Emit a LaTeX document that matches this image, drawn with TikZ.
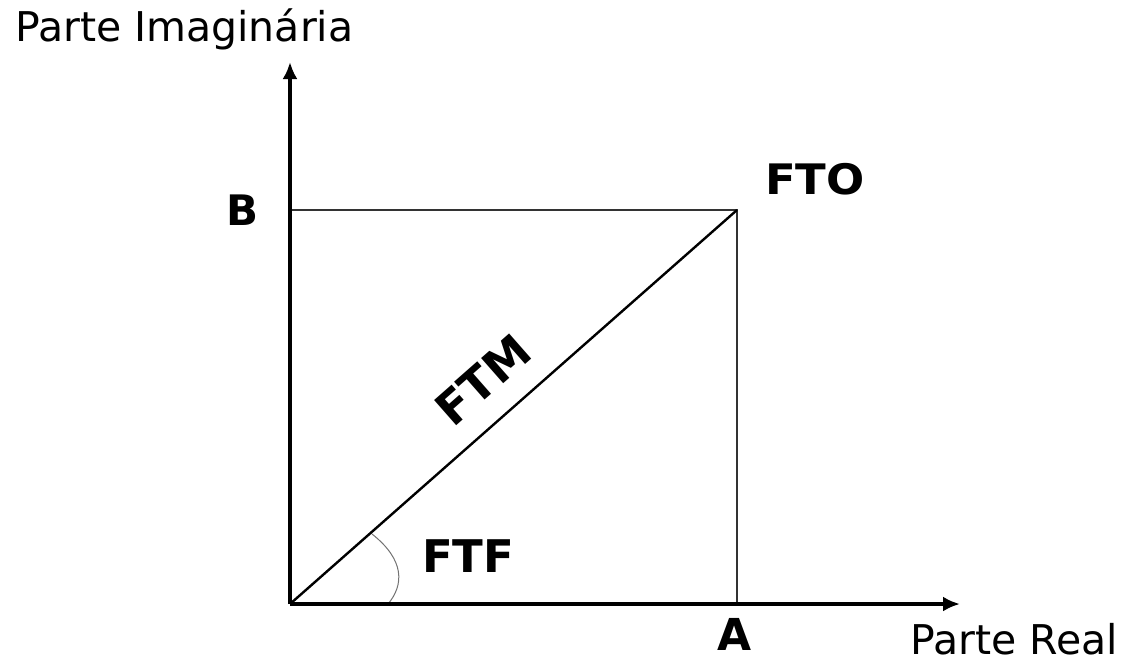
\documentclass[tikz,border=0pt]{standalone}
\usepackage{fontspec}
\setmainfont{DejaVu Sans}
\usetikzlibrary{arrows.meta}
\begin{document}
\begin{tikzpicture}[x=1pt,y=-1pt,
  axis/.style={line width=4pt,-{Latex[length=17pt,width=15pt]}},
  thin line/.style={line width=1.3pt,black!80},
  diag/.style={line width=2.4pt},
  lbl/.style={font=\fontsize{41}{44}\selectfont},
  blbl/.style={font=\fontsize{42}{44}\selectfont\bfseries},
  anglearc/.style={line width=1pt,black!55}]
\useasboundingbox (0,0) rectangle (1126,665);
\coordinate (O) at (290,604);
\coordinate (Yt) at (290,62);
\coordinate (Xt) at (960,604);
\coordinate (P) at (737,210);
\coordinate (Bc) at (290,210);
\coordinate (Ac) at (737,604);
\coordinate (arcS) at (372,534);
\coordinate (arcE) at (388,604);
\draw[thin line] (Bc) -- (P) -- (Ac);
\draw[diag] (O) -- (P);
\draw[anglearc] (arcS) .. controls (405,560) and (404,585) .. (arcE);
\draw[axis] (O) -- (Yt);
\draw[axis] (O) -- (Xt);
\node[lbl,anchor=base west,inner sep=0] (pi) at (15,41) {Parte Imaginária};
\node[lbl,anchor=base east,inner sep=0] (pr) at (1118,654) {Parte Real};
\node[blbl,anchor=base,inner sep=0] (B) at (243,225) {B};
\node[blbl,anchor=base,inner sep=0,font=\fontsize{44}{46}\selectfont\bfseries] (A) at (735,650) {A};
\node[blbl,anchor=base west,inner sep=0,xscale=1.07] (FTO) at (765,194) {FTO};
\node[blbl,anchor=base west,inner sep=0,font=\fontsize{45}{46}\selectfont\bfseries] (FTF) at (422,572) {FTF};
\node[blbl,inner sep=0,rotate=41.3,font=\fontsize{46}{46}\selectfont\bfseries] (FTM) at (483,380) {FTM};
\end{tikzpicture}
\end{document}
